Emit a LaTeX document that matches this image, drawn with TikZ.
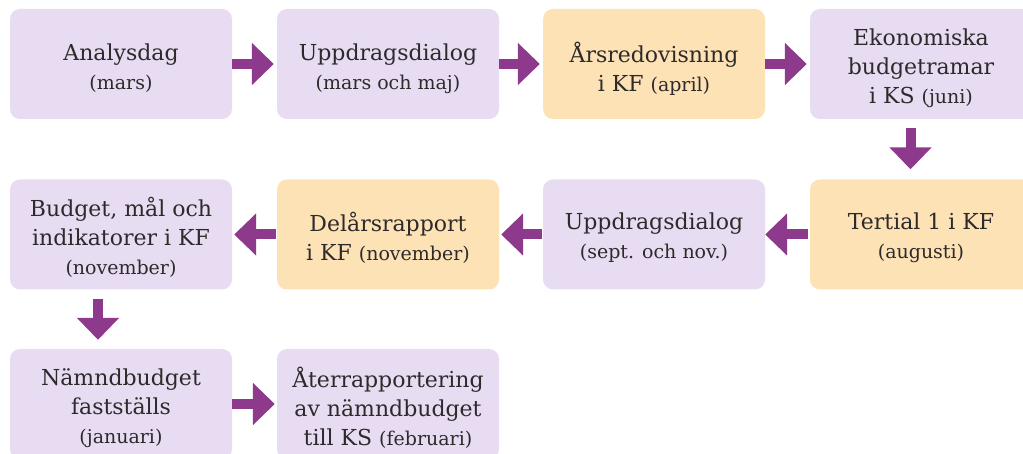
\documentclass[tikz,border=0pt]{standalone}
\usepackage{fontspec}
\setmainfont{DejaVu Serif}
\usetikzlibrary{arrows.meta,calc}
\definecolor{lav}{HTML}{E8DCF2}
\definecolor{peach}{HTML}{FDE2B6}
\definecolor{arr}{HTML}{8E3A8C}
\definecolor{txt}{HTML}{2E2A2B}
\newcommand{\sm}[1]{{\fontsize{19}{29}\selectfont #1}}
\begin{document}
\begin{tikzpicture}[x=1pt,y=-1pt,
  box/.style={fill=lav, rounded corners=10pt, minimum width=222pt, minimum height=110pt,
    inner sep=0pt},
  hot/.style={box, fill=peach},
  lbl/.style={inner sep=0pt, text=txt, align=center, font=\fontsize{22}{29}\selectfont},
  flow/.style={draw=arr, line width=10pt, -{Triangle[width=41pt,length=22pt]}},
]
\clip (0,0) rectangle (1023,454);
\fill[white] (0,0) rectangle (1023,454);
% boxes
\node[box] (a1) at (121,64) {};
\node[box] (a2) at (388,64) {};
\node[hot] (a3) at (654,64) {};
\node[box] (a4) at (921,64) {};
\node[box] (b1) at (121,234.5) {};
\node[hot] (b2) at (388,234.5) {};
\node[box] (b3) at (654,234.5) {};
\node[hot] (b4) at (921,234.5) {};
\node[box] (c1) at (121,404) {};
\node[box] (c2) at (388,404) {};
% texts
\node[lbl] (ta1) at ($(a1)+(0,4.5)$) {Analysdag\\\sm{(mars)}};
\node[lbl] (ta2) at ($(a2)+(0,4.5)$) {Uppdragsdialog\\\sm{(mars och maj)}};
\node[lbl] (ta3) at ($(a3)+(0,4.5)$) {Årsredovisning\\i KF \sm{(april)}};
\node[lbl] (ta4) at ($(a4)+(0,4.5)$) {Ekonomiska\\budgetramar\\i KS \sm{(juni)}};
\node[lbl] (tb1) at ($(b1)+(0,3)$) {Budget, mål och\\indikatorer i KF\\\sm{(november)}};
\node[lbl] (tb2) at ($(b2)+(0,3)$) {Delårsrapport\\i KF \sm{(november)}};
\node[lbl] (tb3) at ($(b3)+(0,3)$) {Uppdragsdialog\\\sm{(sept. och nov.)}};
\node[lbl] (tb4) at ($(b4)+(0,3)$) {Tertial 1 i KF\\\sm{(augusti)}};
\node[lbl] (tc1) at ($(c1)+(0,4)$) {Nämndbudget\\fastställs\\\sm{(januari)}};
\node[lbl] (tc2) at ($(c2)+(0,4)$) {Återrapportering\\av nämndbudget\\till KS \sm{(februari)}};
% connectors
\draw[flow, shorten >=3pt] (a1) -- (a2);
\draw[flow, shorten >=3pt] (a2) -- (a3);
\draw[flow, shorten >=3pt] (a3) -- (a4);
\draw[flow] ($(a4.south)+(-10.5,9)$) -- ($(b4.north)+(-10.5,-10)$);
\draw[flow, shorten <=2pt] (b4) -- (b3);
\draw[flow, shorten <=1pt, shorten >=2pt] (b3) -- (b2);
\draw[flow, shorten <=1pt, shorten >=2pt] (b2) -- (b1);
\draw[flow] ($(b1.south)+(-23,9)$) -- ($(c1.north)+(-23,-9)$);
\draw[flow, shorten >=2pt] (c1) -- (c2);
\end{tikzpicture}
\end{document}
